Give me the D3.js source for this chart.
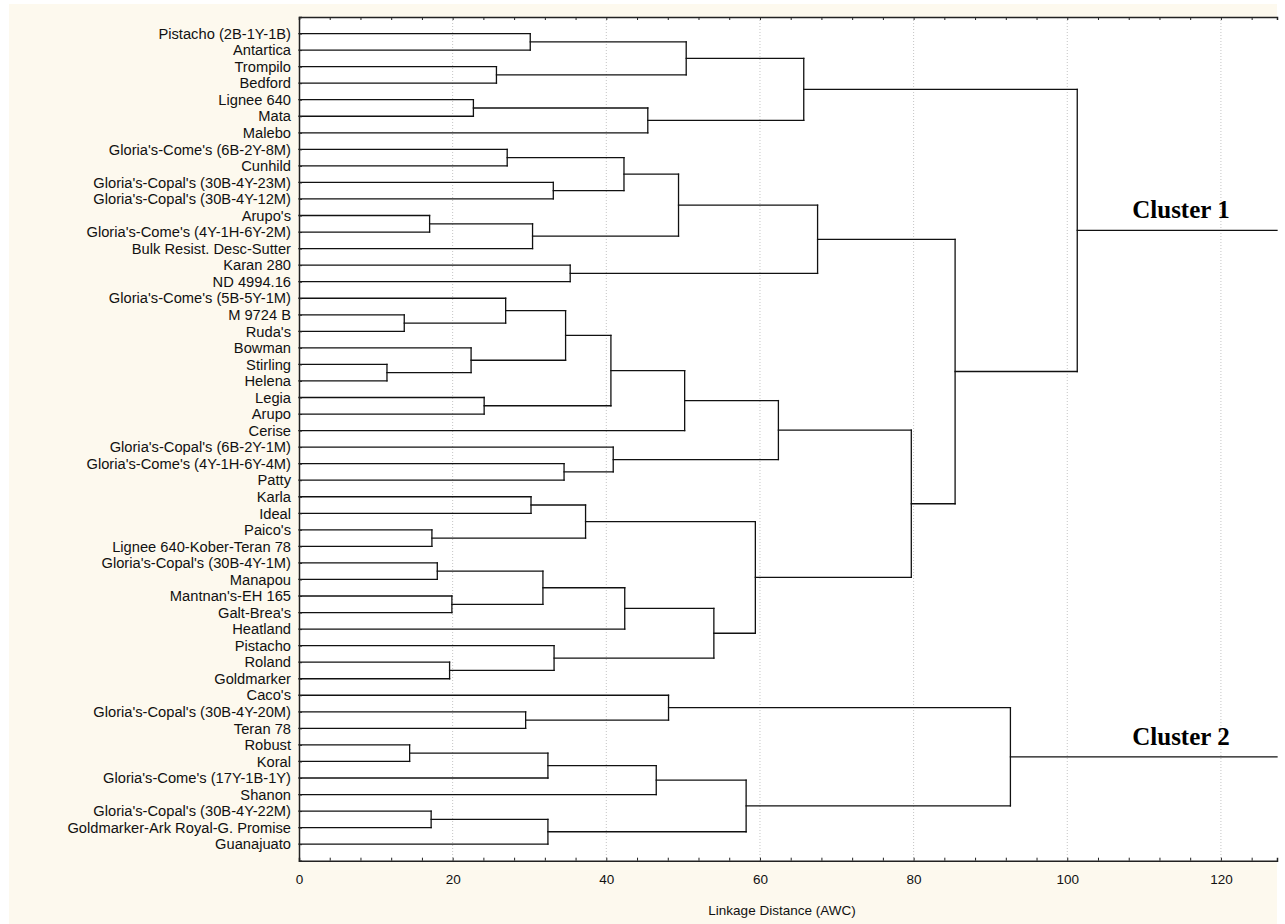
<!DOCTYPE html>
<html>
<head>
<meta charset="utf-8">
<script src="https://cdn.jsdelivr.net/npm/d3@7"></script>
<style>
  body { margin: 0; background: #fff; }
  svg { display: block; }
  .leaf text { font-family: "Liberation Sans", Arial, sans-serif; font-size: 14.7px; fill: #111; }
  .xaxis text { font-family: "Liberation Sans", Arial, sans-serif; font-size: 13.5px; fill: #111; }
  .cluster-label { font-family: "Liberation Serif", "Times New Roman", serif; font-weight: bold; font-size: 25px; fill: #000; }
</style>
</head>
<body>
<script>
// leaf labels, top to bottom
const leaves = [
  "Pistacho (2B-1Y-1B)", "Antartica", "Trompilo", "Bedford", "Lignee 640", "Mata", "Malebo",
  "Gloria's-Come's (6B-2Y-8M)", "Cunhild", "Gloria's-Copal's (30B-4Y-23M)", "Gloria's-Copal's (30B-4Y-12M)",
  "Arupo's", "Gloria's-Come's (4Y-1H-6Y-2M)", "Bulk Resist. Desc-Sutter", "Karan 280", "ND 4994.16",
  "Gloria's-Come's (5B-5Y-1M)", "M 9724 B", "Ruda's", "Bowman", "Stirling", "Helena", "Legia", "Arupo",
  "Cerise", "Gloria's-Copal's (6B-2Y-1M)", "Gloria's-Come's (4Y-1H-6Y-4M)", "Patty", "Karla", "Ideal",
  "Paico's", "Lignee 640-Kober-Teran 78", "Gloria's-Copal's (30B-4Y-1M)", "Manapou", "Mantnan's-EH 165",
  "Galt-Brea's", "Heatland", "Pistacho", "Roland", "Goldmarker", "Caco's", "Gloria's-Copal's (30B-4Y-20M)",
  "Teran 78", "Robust", "Koral", "Gloria's-Come's (17Y-1B-1Y)", "Shanon", "Gloria's-Copal's (30B-4Y-22M)",
  "Goldmarker-Ark Royal-G. Promise", "Guanajuato"
];

// merges: [child a, child b] -> ids 0..49 are leaves, 50+ are merges in this order
const mergeLeft  = [0, 2, 50, 4, 53, 52, 7, 9, 56, 11, 59, 58, 14, 61, 17, 16, 20, 19, 65, 22, 68, 70, 26, 25, 71,
                    28, 30, 75, 32, 34, 78, 80, 38, 37, 81, 77, 74, 63, 55, 41, 40, 43, 91, 92, 47, 94, 93, 90];
const mergeRight = [1, 3, 51, 5, 6, 54, 8, 10, 57, 12, 13, 60, 15, 62, 18, 64, 21, 66, 67, 23, 69, 24, 27, 72, 73,
                    29, 31, 76, 33, 35, 79, 36, 39, 82, 83, 84, 85, 86, 87, 42, 89, 44, 45, 46, 48, 49, 95, 96];
// linkage distance of each merge
const mergeHeight = [30.1, 25.7, 50.4, 22.7, 45.4, 65.7, 27.1, 33.1, 42.3, 17.0, 30.4, 49.4, 35.3, 67.5,
                     13.7, 26.9, 11.45, 22.4, 34.7, 24.1, 40.6, 50.2, 34.5, 40.9, 62.4,
                     30.2, 17.3, 37.3, 18.0, 19.9, 31.75, 42.4, 19.6, 33.2, 54.0, 59.4, 79.7, 85.4, 101.3,
                     29.5, 48.1, 14.4, 32.4, 46.5, 17.2, 32.4, 58.2, 92.6];

const clusterNames = ["Cluster 1", "Cluster 2"];
const clusterRoots = [88, 97];

const xTicksMajor = [0, 20, 40, 60, 80, 100, 120];
const xTicksMinor = d3.range(0, 128, 4);
const xMax = 127.3;

const width = 1285, height = 924;
const plot = { left: 299, right: 1277, top: 17, bottom: 860.7 };

const svg = d3.select('body').append('svg')
  .attr('width', width)
  .attr('height', height);

// backgrounds
svg.append('rect').attr('width', width).attr('height', height).attr('fill', '#fff');
svg.append('rect')
  .attr('x', 9).attr('y', 4)
  .attr('width', plot.right - 9).attr('height', height - 4)
  .attr('fill', '#fdf9ee');
svg.append('rect')
  .attr('x', plot.left).attr('y', plot.top)
  .attr('width', plot.right - plot.left).attr('height', plot.bottom - plot.top)
  .attr('fill', '#fff');

const xScale = d3.scaleLinear().domain([0, xMax]).range([plot.left, plot.right]);
const yScale = d3.scalePoint().domain(d3.range(leaves.length)).range([plot.top, plot.bottom]).padding(1);

// grid
svg.append('g')
  .selectAll('line')
  .data(xTicksMajor.filter(d => d > 0))
  .enter()
  .append('line')
  .attr('x1', d => xScale(d)).attr('x2', d => xScale(d))
  .attr('y1', plot.top).attr('y2', plot.bottom)
  .attr('stroke', '#c4c4c4')
  .attr('stroke-width', 1)
  .attr('stroke-dasharray', '1,2');

// build nodes
let nodes = leaves.map((name, i) => ({ id: i, h: 0, y: yScale(i) }));
mergeLeft.forEach((a, i) => {
  let b = mergeRight[i];
  nodes.push({ id: leaves.length + i, h: mergeHeight[i], a: a, b: b, y: (nodes[a].y + nodes[b].y) / 2 });
});

let segs = [];
nodes.filter(n => n.a !== undefined).forEach(n => {
  let na = nodes[n.a], nb = nodes[n.b];
  segs.push([xScale(na.h), na.y, xScale(n.h), na.y]);
  segs.push([xScale(nb.h), nb.y, xScale(n.h), nb.y]);
  segs.push([xScale(n.h), na.y, xScale(n.h), nb.y]);
});
clusterRoots.forEach(r => {
  segs.push([xScale(nodes[r].h), nodes[r].y, xScale(xMax), nodes[r].y]);
});

svg.append('g')
  .selectAll('line')
  .data(segs)
  .enter()
  .append('line')
  .attr('x1', d => d[0]).attr('y1', d => d[1])
  .attr('x2', d => d[2]).attr('y2', d => d[3])
  .attr('stroke', '#111')
  .attr('stroke-width', 1.3)
  .attr('stroke-linecap', 'square');

// axes
let xAxisBottom = d3.axisBottom(xScale)
  .tickValues(xTicksMinor)
  .tickSize(-3)
  .tickPadding(14)
  .tickFormat(d => xTicksMajor.includes(d) ? d : '');
svg.append('g')
  .attr('class', 'xaxis')
  .attr('transform', 'translate(0,' + plot.bottom + ')')
  .call(xAxisBottom)
  .call(g => g.selectAll('text').attr('font-family', null).attr('font-size', null));

let xAxisTop = d3.axisTop(xScale)
  .tickValues(xTicksMinor)
  .tickSize(-3)
  .tickFormat('');
svg.append('g')
  .attr('transform', 'translate(0,' + plot.top + ')')
  .call(xAxisTop);

let yAxis = d3.axisLeft(yScale)
  .tickSize(-3)
  .tickPadding(8)
  .tickFormat(i => leaves[i]);
svg.append('g')
  .attr('class', 'leaf')
  .attr('transform', 'translate(' + plot.left + ',0)')
  .call(yAxis)
  .call(g => g.selectAll('text').attr('font-family', null).attr('font-size', null));

svg.selectAll('.domain').attr('stroke', '#222').attr('stroke-width', 1.5);
svg.selectAll('.tick line').attr('stroke', '#222');

// axis title
svg.append('text')
  .attr('x', (plot.left + plot.right) / 2 - 6)
  .attr('y', 915)
  .attr('text-anchor', 'middle')
  .style('font-family', '"Liberation Sans", Arial, sans-serif')
  .style('font-size', '13.5px')
  .attr('fill', '#111')
  .text('Linkage Distance (AWC)');

// cluster labels
svg.append('g')
  .selectAll('text')
  .data(clusterRoots)
  .enter()
  .append('text')
  .attr('class', 'cluster-label')
  .attr('x', xScale(114.8))
  .attr('y', r => nodes[r].y - 12)
  .attr('text-anchor', 'middle')
  .text((r, i) => clusterNames[i]);
</script>
</body>
</html>
